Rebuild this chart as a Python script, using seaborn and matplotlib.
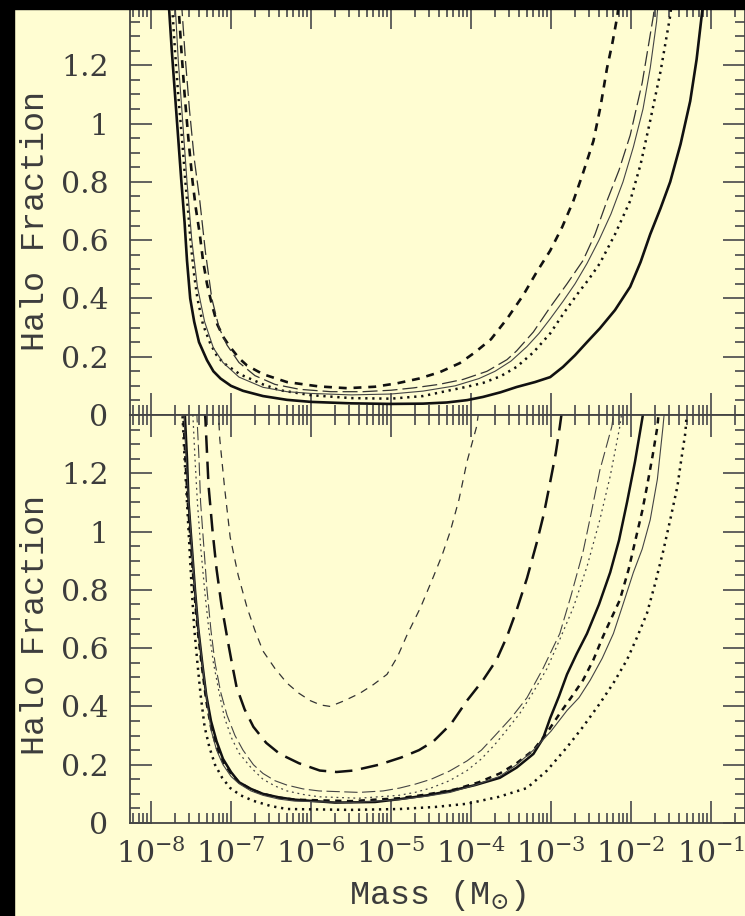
import numpy as np
import pandas as pd
import matplotlib
matplotlib.use("Agg")
import matplotlib.pyplot as plt
import seaborn as sns
from matplotlib.ticker import LogLocator, FixedLocator, MultipleLocator, FuncFormatter, NullFormatter, LogFormatterSciNotation
from matplotlib.patches import Rectangle

sns.set_theme(style="ticks")
plt.rcParams["font.family"] = ["DejaVu Serif"]
plt.rcParams["mathtext.fontset"] = "dejavuserif"

BG = "#FFFDD2"
INK = "#3c3c3c"

# ---------------- data: top panel (log10 mass, halo fraction) ----------------
top_solid_logm = [-7.78, -7.74, -7.70, -7.66, -7.62, -7.58, -7.55, -7.51, -7.46, -7.40, -7.30, -7.22, -7.13,
                  -7.00, -6.85, -6.60, -6.30, -6.00, -5.50, -5.00, -4.60, -4.30, -4.05, -3.85, -3.63, -3.43,
                  -3.20, -3.01, -2.85, -2.70, -2.55, -2.39, -2.20, -2.01, -1.88, -1.76, -1.63, -1.51, -1.38,
                  -1.26, -1.18, -1.11, -1.09]
top_solid_frac = [1.42, 1.25, 1.10, 0.95, 0.80, 0.66, 0.53, 0.40, 0.32, 0.25, 0.188, 0.15, 0.125,
                  0.100, 0.083, 0.065, 0.052, 0.045, 0.040, 0.038, 0.039, 0.043, 0.051, 0.062, 0.078, 0.096,
                  0.113, 0.130, 0.165, 0.205, 0.25, 0.297, 0.36, 0.44, 0.525, 0.62, 0.71, 0.80, 0.93,
                  1.077, 1.22, 1.385, 1.42]

top_dotted_logm = [-7.74, -7.70, -7.66, -7.61, -7.57, -7.53, -7.50, -7.46, -7.42, -7.35, -7.26, -7.18, -7.10,
                   -6.89, -6.60, -6.39, -6.00, -5.50, -5.00, -4.60, -4.26, -4.05, -3.85, -3.63, -3.43, -3.22,
                   -3.01, -2.84, -2.67, -2.53, -2.39, -2.20, -2.01, -1.88, -1.76, -1.63, -1.51, -1.49]
top_dotted_frac = [1.42, 1.25, 1.10, 0.94, 0.80, 0.68, 0.58, 0.48, 0.40, 0.31, 0.246, 0.205, 0.18,
                   0.14, 0.105, 0.085, 0.068, 0.058, 0.056, 0.065, 0.085, 0.097, 0.11, 0.133, 0.165, 0.215,
                   0.28, 0.35, 0.415, 0.465, 0.52, 0.62, 0.735, 0.86, 1.01, 1.18, 1.37, 1.42]

top_dashed_logm = [-7.66, -7.62, -7.58, -7.53, -7.48, -7.44, -7.39, -7.35, -7.30, -7.24, -7.17, -7.09, -7.01,
                   -6.90, -6.80, -6.60, -6.30, -5.90, -5.55, -5.20, -4.92, -4.65, -4.39, -4.14, -3.95, -3.75,
                   -3.55, -3.35, -3.18, -3.01, -2.86, -2.72, -2.60, -2.47, -2.38, -2.30, -2.23, -2.17, -2.15]
top_dashed_frac = [1.42, 1.25, 1.10, 0.94, 0.80, 0.71, 0.62, 0.53, 0.45, 0.38, 0.31, 0.265, 0.233,
                   0.195, 0.17, 0.14, 0.113, 0.098, 0.092, 0.097, 0.109, 0.125, 0.147, 0.178, 0.215, 0.26,
                   0.33, 0.41, 0.49, 0.564, 0.645, 0.735, 0.83, 0.94, 1.06, 1.19, 1.28, 1.37, 1.42]

top_longdash_logm = [-7.62, -7.57, -7.52, -7.46, -7.39, -7.32, -7.24, -7.15, -7.05, -6.90, -6.70, -6.45, -6.14,
                     -5.75, -5.35, -5.00, -4.72, -4.40, -4.10, -3.80, -3.55, -3.43, -3.22, -3.01, -2.80, -2.60,
                     -2.45, -2.30, -2.15, -2.01, -1.86, -1.72, -1.70]
top_longdash_frac = [1.42, 1.22, 1.05, 0.88, 0.735, 0.56, 0.40, 0.30, 0.24, 0.18, 0.135, 0.105, 0.088,
                     0.080, 0.080, 0.085, 0.093, 0.105, 0.122, 0.15, 0.19, 0.22, 0.285, 0.37, 0.45, 0.53,
                     0.62, 0.735, 0.84, 0.96, 1.14, 1.37, 1.42]

top_thin_logm = [-7.70, -7.66, -7.61, -7.55, -7.49, -7.42, -7.33, -7.22, -7.10, -6.90, -6.60, -6.30, -6.00,
                 -5.50, -5.00, -4.60, -4.20, -3.90, -3.70, -3.50, -3.30, -3.15, -3.01, -2.85, -2.70, -2.55,
                 -2.40, -2.25, -2.10, -1.97, -1.85, -1.76, -1.68, -1.66]
top_thin_frac = [1.42, 1.22, 1.03, 0.80, 0.60, 0.44, 0.32, 0.23, 0.18, 0.13, 0.095, 0.080, 0.074,
                 0.069, 0.072, 0.082, 0.10, 0.125, 0.15, 0.185, 0.235, 0.28, 0.33, 0.39, 0.45, 0.52,
                 0.60, 0.69, 0.80, 0.92, 1.05, 1.19, 1.35, 1.42]

# ---------------- data: bottom panel ----------------
bot_a_logm = [-7.16, -7.14, -7.08, -7.01, -6.91, -6.80, -6.70, -6.60, -6.45, -6.30, -6.15, -6.01, -5.88,
              -5.76, -5.58, -5.39, -5.22, -5.05, -4.92, -4.80, -4.63, -4.47, -4.36, -4.26, -4.15, -4.05,
              -3.96, -3.93, -3.90]
bot_a_frac = [1.42, 1.317, 1.15, 0.98, 0.85, 0.74, 0.66, 0.59, 0.53, 0.48, 0.445, 0.42, 0.405,
              0.40, 0.42, 0.445, 0.475, 0.51, 0.57, 0.645, 0.74, 0.845, 0.92, 1.00, 1.11, 1.24,
              1.33, 1.36, 1.42]

bot_b_logm = [-7.33, -7.32, -7.30, -7.28, -7.23, -7.18, -7.12, -7.05, -6.99, -6.93, -6.83, -6.72, -6.56,
              -6.39, -6.15, -5.89, -5.68, -5.47, -5.15, -4.87, -4.65, -4.47, -4.25, -4.05, -3.85, -3.68,
              -3.55, -3.43, -3.30, -3.18, -3.09, -3.01, -2.94, -2.89, -2.86]
bot_b_frac = [1.42, 1.386, 1.27, 1.155, 1.00, 0.87, 0.75, 0.64, 0.55, 0.466, 0.39, 0.33, 0.275,
              0.237, 0.205, 0.18, 0.175, 0.18, 0.20, 0.225, 0.25, 0.28, 0.34, 0.42, 0.49, 0.56,
              0.64, 0.73, 0.84, 0.96, 1.06, 1.17, 1.27, 1.36, 1.42]

bot_c_logm = [-7.43, -7.40, -7.38, -7.34, -7.30, -7.25, -7.20, -7.13, -7.05, -6.95, -6.85, -6.72, -6.60,
              -6.45, -6.30, -6.10, -5.90, -5.40, -5.10, -4.89, -4.70, -4.50, -4.27, -4.05, -3.87, -3.70,
              -3.50, -3.30, -3.10, -2.89, -2.75, -2.60, -2.50, -2.39, -2.30, -2.24, -2.21]
bot_c_frac = [1.42, 1.25, 1.10, 0.95, 0.80, 0.66, 0.55, 0.45, 0.37, 0.30, 0.25, 0.20, 0.17,
              0.145, 0.13, 0.117, 0.11, 0.105, 0.11, 0.12, 0.133, 0.15, 0.178, 0.213, 0.25, 0.30,
              0.36, 0.43, 0.53, 0.65, 0.78, 0.93, 1.06, 1.21, 1.30, 1.36, 1.42]

bot_d_logm = [-7.48, -7.45, -7.42, -7.38, -7.33, -7.28, -7.22, -7.15, -7.08, -6.99, -6.90, -6.75, -6.60,
              -6.45, -6.30, -6.10, -5.90, -5.40, -4.90, -4.70, -4.50, -4.27, -4.05, -3.87, -3.70, -3.55,
              -3.39, -3.22, -3.05, -2.89, -2.72, -2.55, -2.39, -2.26, -2.14, -2.11]
bot_d_frac = [1.42, 1.25, 1.10, 0.95, 0.80, 0.67, 0.55, 0.45, 0.36, 0.29, 0.24, 0.19, 0.15,
              0.127, 0.11, 0.098, 0.09, 0.085, 0.095, 0.105, 0.12, 0.145, 0.18, 0.22, 0.27, 0.32,
              0.376, 0.45, 0.53, 0.63, 0.74, 0.88, 1.04, 1.19, 1.36, 1.42]

bot_e_logm = [-7.58, -7.55, -7.53, -7.49, -7.45, -7.41, -7.36, -7.31, -7.25, -7.18, -7.10, -7.00, -6.90,
              -6.75, -6.60, -6.40, -6.20, -5.70, -5.20, -4.89, -4.55, -4.26, -3.95, -3.64, -3.43, -3.22,
              -3.10, -3.01, -2.90, -2.80, -2.68, -2.55, -2.40, -2.26, -2.15, -2.05, -1.95, -1.86, -1.84]
bot_e_frac = [1.42, 1.25, 1.10, 0.95, 0.80, 0.67, 0.55, 0.44, 0.35, 0.28, 0.22, 0.175, 0.14,
              0.117, 0.10, 0.088, 0.08, 0.07, 0.072, 0.082, 0.095, 0.11, 0.13, 0.155, 0.19, 0.237,
              0.29, 0.36, 0.435, 0.51, 0.58, 0.65, 0.75, 0.86, 0.97, 1.10, 1.24, 1.386, 1.42]

bot_f_logm = [-7.60, -7.57, -7.54, -7.50, -7.46, -7.42, -7.37, -7.31, -7.25, -7.18, -7.10, -7.00, -6.90,
              -6.75, -6.60, -6.40, -6.20, -5.50, -4.90, -4.55, -4.20, -3.90, -3.64, -3.43, -3.22, -3.05,
              -2.89, -2.75, -2.60, -2.47, -2.35, -2.25, -2.14, -2.03, -1.92, -1.86, -1.80, -1.73, -1.67,
              -1.65]
bot_f_frac = [1.42, 1.25, 1.10, 0.95, 0.80, 0.67, 0.55, 0.42, 0.33, 0.26, 0.21, 0.17, 0.14,
              0.115, 0.10, 0.087, 0.08, 0.075, 0.085, 0.098, 0.115, 0.14, 0.17, 0.205, 0.25, 0.31,
              0.376, 0.43, 0.49, 0.56, 0.64, 0.70, 0.765, 0.87, 1.00, 1.07, 1.155, 1.26, 1.36,
              1.42]

bot_g_logm = [-7.59, -7.56, -7.53, -7.49, -7.45, -7.41, -7.36, -7.30, -7.25, -7.18, -7.10, -7.00, -6.90,
              -6.75, -6.60, -6.40, -6.20, -5.50, -4.90, -4.55, -4.26, -3.95, -3.64, -3.43, -3.22, -3.00,
              -2.80, -2.65, -2.51, -2.36, -2.22, -2.10, -1.97, -1.86, -1.76, -1.67, -1.60, -1.58]
bot_g_frac = [1.42, 1.25, 1.10, 0.95, 0.80, 0.67, 0.55, 0.42, 0.32, 0.25, 0.20, 0.16, 0.135,
              0.11, 0.095, 0.082, 0.075, 0.070, 0.080, 0.092, 0.105, 0.13, 0.16, 0.20, 0.25, 0.315,
              0.386, 0.43, 0.49, 0.565, 0.65, 0.75, 0.86, 0.94, 1.04, 1.18, 1.36, 1.42]

bot_h_logm = [-7.61, -7.58, -7.55, -7.52, -7.49, -7.46, -7.42, -7.38, -7.33, -7.27, -7.20, -7.11, -7.01,
              -6.88, -6.72, -6.50, -6.30, -5.50, -4.89, -4.45, -4.05, -3.65, -3.30, -3.05, -2.80, -2.60,
              -2.39, -2.22, -2.05, -1.92, -1.80, -1.70, -1.60, -1.51, -1.42, -1.37, -1.32, -1.30]
bot_h_frac = [1.42, 1.25, 1.10, 0.95, 0.80, 0.67, 0.55, 0.44, 0.33, 0.26, 0.20, 0.155, 0.12,
              0.095, 0.076, 0.058, 0.048, 0.045, 0.048, 0.055, 0.066, 0.09, 0.12, 0.18, 0.26, 0.33,
              0.41, 0.48, 0.56, 0.64, 0.72, 0.82, 0.93, 1.04, 1.155, 1.25, 1.34, 1.42]

y_ticks = [0, 0.2, 0.4, 0.6, 0.8, 1.0, 1.2]
y_label = "Halo Fraction"
x_label = "Mass (M$_{\\odot}$)"

# styles: (color, linewidth, linestyle)
top_curves = [
    (top_solid_logm, top_solid_frac, "#111111", 1.9, "-"),
    (top_dotted_logm, top_dotted_frac, "#111111", 1.8, (0, (0.9, 1.9))),
    (top_dashed_logm, top_dashed_frac, "#111111", 1.9, (0, (3.0, 2.6))),
    (top_longdash_logm, top_longdash_frac, "#333333", 0.9, (0, (12, 4))),
    (top_thin_logm, top_thin_frac, "#444444", 0.8, "-"),
]
bot_curves = [
    (bot_a_logm, bot_a_frac, "#333333", 0.9, (0, (6, 5))),
    (bot_b_logm, bot_b_frac, "#111111", 1.8, (0, (7, 3.5))),
    (bot_c_logm, bot_c_frac, "#444444", 0.8, (0, (12, 4))),
    (bot_d_logm, bot_d_frac, "#444444", 0.9, (0, (1.5, 3))),
    (bot_e_logm, bot_e_frac, "#111111", 1.8, "-"),
    (bot_f_logm, bot_f_frac, "#111111", 1.8, (0, (2.5, 2.2))),
    (bot_g_logm, bot_g_frac, "#444444", 0.8, "-"),
    (bot_h_logm, bot_h_frac, "#111111", 1.8, (0, (0.9, 1.9))),
]

W, H = 745, 916
fig = plt.figure(figsize=(W / 100, H / 100), dpi=100, facecolor=BG)
ax_top = fig.add_axes([130 / W, 1 - 415 / H, 615 / W, 408 / H])
ax_bot = fig.add_axes([130 / W, 1 - 823 / H, 615 / W, 408 / H])


def draw(ax, curves):
    for logm, frac, col, lw, ls in curves:
        df = pd.DataFrame({"mass": np.power(10.0, np.array(logm)), "frac": frac})
        sns.lineplot(data=df, x="mass", y="frac", ax=ax, sort=False, estimator=None,
                     color=col, linewidth=lw, linestyle=ls)


def style(ax, show_x, ylab_y):
    ax.set_facecolor(BG)
    ax.set_xscale("log")
    ax.set_xlim(10 ** -8.2625, 10 ** -0.575)
    ax.set_ylim(0, 1.4)
    ax.xaxis.set_major_locator(LogLocator(base=10, numticks=20))
    ax.xaxis.set_minor_locator(LogLocator(base=10, subs=np.arange(2, 10), numticks=20))
    ax.xaxis.set_minor_formatter(NullFormatter())
    ax.yaxis.set_major_locator(FixedLocator(y_ticks))
    ax.yaxis.set_minor_locator(MultipleLocator(0.05))
    ax.yaxis.set_major_formatter(FuncFormatter(lambda v, p: f"{v:g}"))
    ax.tick_params(which="both", direction="in", top=True, right=True, color="#555555", width=1.3,
                   labelcolor=INK, labelsize=21.5)
    ax.tick_params(which="major", length=16)
    ax.tick_params(which="minor", length=7.5)
    ax.tick_params(axis="y", which="major", pad=15.5)
    ax.tick_params(axis="x", which="major", pad=11)
    for s in ax.spines.values():
        s.set_color("#444444")
        s.set_linewidth(1.3)
    if show_x:
        ax.xaxis.set_major_formatter(LogFormatterSciNotation())
        ax.set_xlabel(x_label, fontsize=24, family=["Liberation Mono", "DejaVu Sans"], color=INK)
        ax.xaxis.set_label_coords(0.5, -0.135)
    else:
        ax.tick_params(labelbottom=False)
        ax.set_xlabel("")
    ax.set_ylabel(y_label, fontsize=24, family=["Liberation Mono", "DejaVu Sans"], color=INK)
    ax.yaxis.set_label_coords(-0.128, ylab_y)


draw(ax_top, top_curves)
draw(ax_bot, bot_curves)
style(ax_top, False, 0.475)
style(ax_bot, True, 0.485)

fig.add_artist(Rectangle((0, 0), 14 / W, 1, transform=fig.transFigure, color="black", zorder=20))
fig.add_artist(Rectangle((0, 1 - 9 / H), 1, 9 / H, transform=fig.transFigure, color="black", zorder=20))

fig.savefig("out.png", dpi=100, facecolor=BG)
